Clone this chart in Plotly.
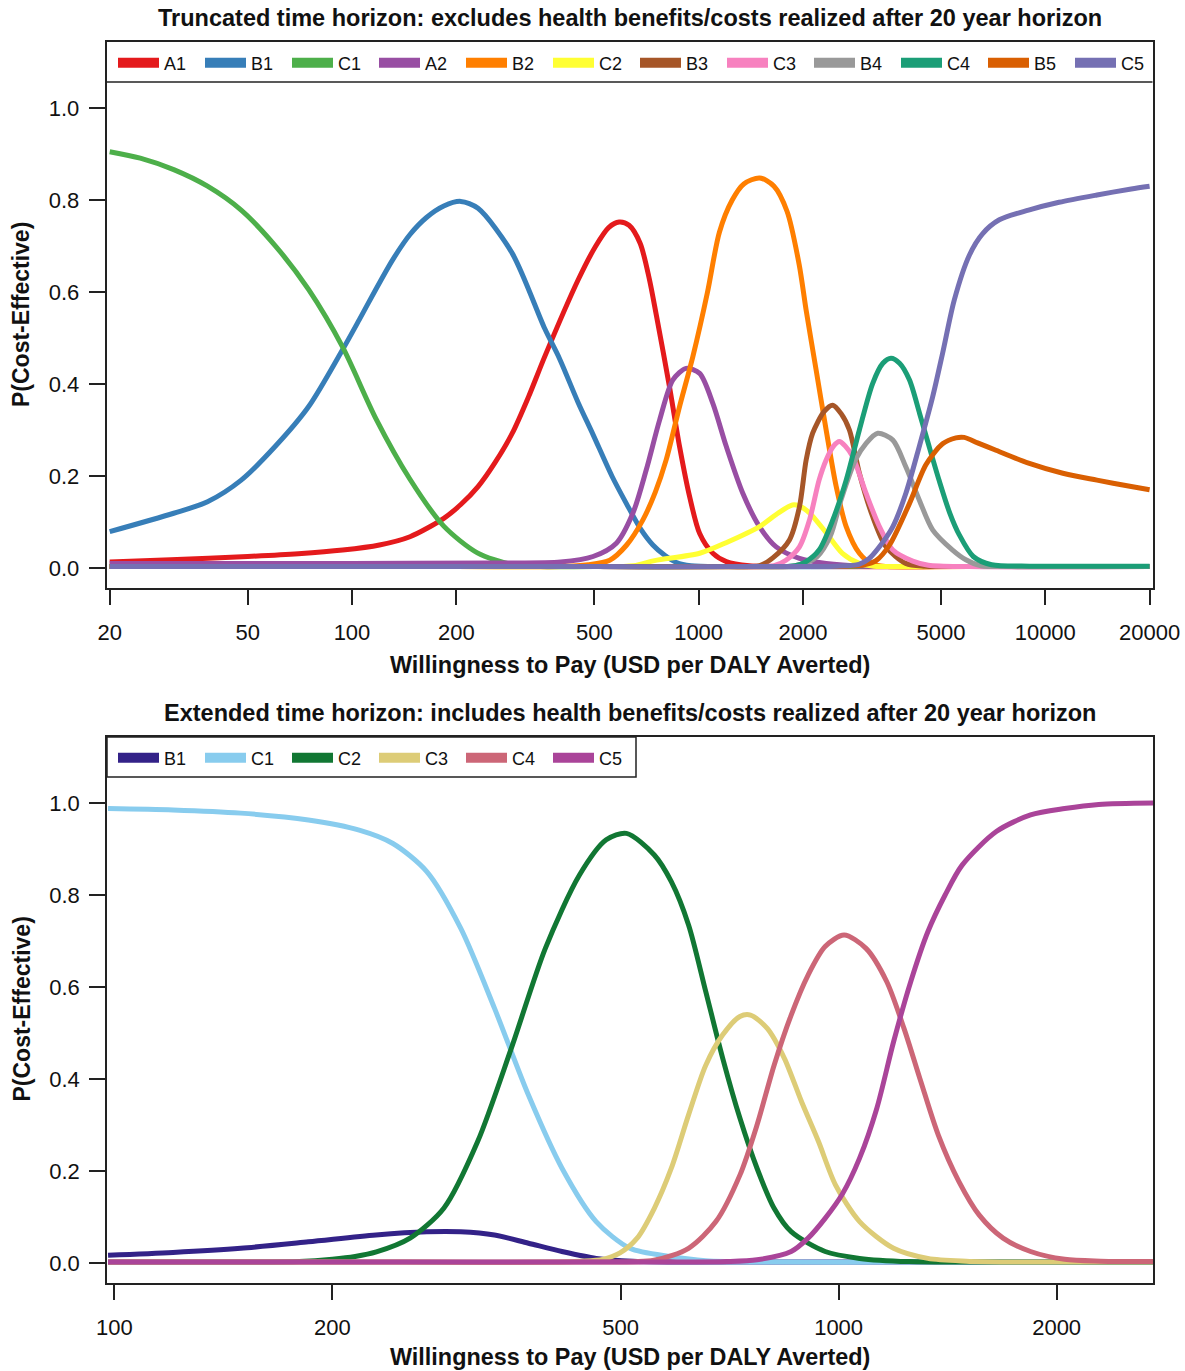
import plotly.graph_objects as go

# ---------------- Top panel data (truncated horizon) ----------------
A1_x = [20, 30, 50, 70, 94, 120, 147, 184, 206, 231, 258, 290, 323, 360, 449, 504, 550, 590, 630, 678, 720, 755, 824, 881, 942, 1007, 1099, 1202, 1400, 2000, 5000, 20000]
A1_y = [0.013, 0.018, 0.025, 0.031, 0.039, 0.05, 0.068, 0.108, 0.138, 0.177, 0.228, 0.293, 0.372, 0.46, 0.626, 0.699, 0.74, 0.752, 0.745, 0.706, 0.63, 0.55, 0.394, 0.264, 0.155, 0.075, 0.032, 0.014, 0.005, 0.003, 0.003, 0.003]

B1_x = [20, 30.6, 38.3, 47.9, 60, 75, 94, 105, 117, 131, 147, 164, 184, 206, 231, 290, 360, 397, 449, 496, 562, 619, 680, 738, 800, 863, 950, 1200, 3000, 20000]
B1_y = [0.079, 0.119, 0.144, 0.191, 0.264, 0.351, 0.475, 0.54, 0.605, 0.67, 0.725, 0.762, 0.787, 0.797, 0.782, 0.684, 0.52, 0.455, 0.36, 0.29, 0.2, 0.14, 0.085, 0.05, 0.027, 0.012, 0.005, 0.003, 0.003, 0.003]

C1_x = [20, 24.5, 30.6, 38.3, 47.9, 60, 75, 94, 117, 147, 184, 230, 288, 350, 500, 2000, 20000]
C1_y = [0.905, 0.891, 0.866, 0.83, 0.778, 0.701, 0.605, 0.48, 0.326, 0.193, 0.091, 0.033, 0.008, 0.003, 0.003, 0.003, 0.003]

A2_x = [20, 100, 250, 400, 496, 579, 646, 706, 772, 843, 921, 1007, 1099, 1202, 1342, 1498, 1674, 1954, 2333, 3000, 5000, 20000]
A2_y = [0.01, 0.01, 0.011, 0.013, 0.025, 0.054, 0.119, 0.213, 0.322, 0.409, 0.434, 0.423, 0.358, 0.264, 0.162, 0.09, 0.046, 0.021, 0.01, 0.004, 0.003, 0.003]

B2_x = [20, 200, 400, 480, 554, 620, 690, 750, 806, 881, 962, 1061, 1148, 1250, 1350, 1500, 1650, 1800, 1950, 2043, 2183, 2333, 2494, 2665, 2909, 3177, 3500, 6000, 20000]
B2_y = [0.003, 0.003, 0.003, 0.007, 0.017, 0.05, 0.104, 0.165, 0.235, 0.351, 0.459, 0.6, 0.73, 0.8, 0.835, 0.848, 0.83, 0.775, 0.66, 0.56, 0.43, 0.3, 0.177, 0.09, 0.032, 0.008, 0.003, 0.003, 0.003]

C2_x = [20, 200, 500, 650, 746, 1007, 1200, 1498, 1700, 1865, 1950, 2088, 2337, 2599, 2909, 3200, 4000, 20000]
C2_y = [0.003, 0.003, 0.003, 0.005, 0.016, 0.032, 0.055, 0.09, 0.12, 0.137, 0.135, 0.12, 0.076, 0.032, 0.01, 0.004, 0.003, 0.003]

B3_x = [20, 500, 1200, 1500, 1637, 1828, 1954, 2043, 2133, 2300, 2437, 2580, 2723, 2909, 3177, 3474, 3960, 4500, 6000, 20000]
B3_y = [0.003, 0.003, 0.003, 0.005, 0.022, 0.061, 0.133, 0.235, 0.293, 0.34, 0.354, 0.335, 0.3, 0.206, 0.112, 0.046, 0.01, 0.004, 0.003, 0.003]

C3_x = [20, 500, 1300, 1650, 1786, 1954, 2088, 2226, 2333, 2450, 2547, 2650, 2783, 3042, 3323, 3634, 4147, 4600, 6000, 20000]
C3_y = [0.003, 0.003, 0.003, 0.005, 0.017, 0.046, 0.104, 0.191, 0.235, 0.265, 0.275, 0.265, 0.242, 0.162, 0.09, 0.039, 0.015, 0.006, 0.003, 0.003]

B4_x = [20, 500, 1500, 1900, 2200, 2400, 2580, 2834, 3042, 3286, 3634, 3960, 4330, 4733, 5404, 5900, 6530, 8000, 20000]
B4_y = [0.003, 0.003, 0.003, 0.005, 0.025, 0.07, 0.15, 0.235, 0.271, 0.293, 0.278, 0.22, 0.148, 0.083, 0.039, 0.018, 0.005, 0.003, 0.003]

C4_x = [20, 500, 1500, 1900, 2043, 2226, 2437, 2665, 2909, 3177, 3400, 3589, 3800, 4056, 4340, 4600, 4943, 5300, 5650, 6200, 7000, 9000, 20000]
C4_y = [0.003, 0.003, 0.003, 0.005, 0.014, 0.039, 0.104, 0.191, 0.3, 0.401, 0.445, 0.456, 0.445, 0.409, 0.336, 0.27, 0.19, 0.12, 0.072, 0.025, 0.007, 0.004, 0.004]

B5_x = [20, 500, 2000, 2700, 3000, 3250, 3554, 4056, 4530, 5057, 5525, 5835, 6380, 7150, 8950, 11240, 14100, 17700, 20000]
B5_y = [0.003, 0.003, 0.003, 0.004, 0.007, 0.016, 0.05, 0.14, 0.225, 0.27, 0.283, 0.284, 0.272, 0.257, 0.228, 0.206, 0.191, 0.177, 0.17]

C5_x = [20, 100, 500, 1500, 2500, 2900, 3100, 3323, 3634, 3960, 4330, 4733, 5057, 5466, 6040, 6600, 7370, 8950, 10960, 14100, 17700, 20000]
C5_y = [0.003, 0.003, 0.003, 0.003, 0.004, 0.008, 0.02, 0.046, 0.09, 0.162, 0.264, 0.372, 0.467, 0.583, 0.68, 0.727, 0.757, 0.778, 0.795, 0.811, 0.824, 0.83]

top_names = ["A1", "B1", "C1", "A2", "B2", "C2", "B3", "C3", "B4", "C4", "B5", "C5"]
top_colors = ["#e41a1c", "#377eb8", "#4daf4a", "#984ea3", "#ff7f00", "#ffff33",
              "#a65628", "#f781bf", "#999999", "#1b9e77", "#d95f02", "#7570b3"]
top_series = [(A1_x, A1_y), (B1_x, B1_y), (C1_x, C1_y), (A2_x, A2_y), (B2_x, B2_y), (C2_x, C2_y),
              (B3_x, B3_y), (C3_x, C3_y), (B4_x, B4_y), (C4_x, C4_y), (B5_x, B5_y), (C5_x, C5_y)]

# ---------------- Bottom panel data (extended horizon) ----------------
eB1_x = [98, 120.5, 149.4, 185.3, 229.7, 270, 300.7, 334.8, 373, 415, 462.6, 520, 700, 2750]
eB1_y = [0.017, 0.023, 0.032, 0.046, 0.061, 0.068, 0.068, 0.061, 0.043, 0.025, 0.01, 0.004, 0.002, 0.002]

eC1_x = [98, 120.5, 149.4, 185.3, 217.8, 242.4, 270, 300.7, 334.8, 373, 415, 462.6, 515, 587, 655, 800, 1200, 2750]
eC1_y = [0.988, 0.985, 0.978, 0.963, 0.941, 0.912, 0.851, 0.728, 0.554, 0.365, 0.206, 0.09, 0.032, 0.014, 0.005, 0.002, 0.002, 0.002]

eC2_x = [98, 150, 180, 200, 215, 230, 256, 285, 317.4, 353.3, 393.6, 438.5, 477.6, 509.4, 556.6, 587.5, 620.6, 655.5, 691.8, 730.6, 771.5, 814.6, 860, 958, 1069, 1250, 1600, 2750]
eC2_y = [0.002, 0.002, 0.003, 0.008, 0.014, 0.024, 0.054, 0.119, 0.264, 0.467, 0.684, 0.843, 0.92, 0.934, 0.887, 0.829, 0.735, 0.59, 0.445, 0.315, 0.206, 0.119, 0.068, 0.025, 0.01, 0.003, 0.002, 0.002]

eC3_x = [98, 250, 400, 440, 472, 499, 527, 556.6, 587.5, 620.6, 655.5, 691.8, 730.6, 755.7, 797, 841.6, 888.6, 938, 990, 1069, 1191, 1328, 1500, 1900, 2750]
eC3_y = [0.002, 0.002, 0.002, 0.004, 0.008, 0.022, 0.054, 0.119, 0.206, 0.322, 0.43, 0.496, 0.536, 0.539, 0.51, 0.445, 0.351, 0.264, 0.17, 0.09, 0.032, 0.01, 0.004, 0.002, 0.002]

eC4_x = [98, 250, 450, 556, 620.6, 677, 730.6, 771.5, 814.6, 860, 907.5, 958, 1017.6, 1091, 1165, 1231, 1299, 1373, 1466, 1564, 1687, 1841, 2052, 2300, 2750]
eC4_y = [0.002, 0.002, 0.002, 0.006, 0.032, 0.09, 0.191, 0.3, 0.43, 0.539, 0.626, 0.688, 0.713, 0.684, 0.612, 0.51, 0.394, 0.278, 0.177, 0.104, 0.054, 0.025, 0.008, 0.004, 0.003]

eC5_x = [98, 200, 400, 600, 700, 771.5, 860, 907.5, 958, 1012, 1069, 1129, 1191, 1258, 1328, 1403, 1481, 1651, 1841, 2052, 2286, 2750]
eC5_y = [0.002, 0.002, 0.002, 0.002, 0.003, 0.007, 0.025, 0.054, 0.097, 0.15, 0.228, 0.336, 0.481, 0.612, 0.72, 0.8, 0.865, 0.938, 0.974, 0.988, 0.997, 1.0]

bot_names = ["B1", "C1", "C2", "C3", "C4", "C5"]
bot_colors = ["#332288", "#88ccee", "#117733", "#ddcc77", "#cc6677", "#aa4499"]
bot_series = [(eB1_x, eB1_y), (eC1_x, eC1_y), (eC2_x, eC2_y), (eC3_x, eC3_y), (eC4_x, eC4_y), (eC5_x, eC5_y)]

# Tick labels
top_ticks = [20, 50, 100, 200, 500, 1000, 2000, 5000, 10000, 20000]
bot_ticks = [100, 200, 500, 1000, 2000]
y_ticks = [0.0, 0.2, 0.4, 0.6, 0.8, 1.0]

titles = ["Truncated time horizon: excludes health benefits/costs realized after 20 year horizon",
          "Extended time horizon: includes health benefits/costs realized after 20 year horizon"]
x_title = "Willingness to Pay (USD per DALY Averted)"
y_title = "P(Cost-Effective)"

W, H = 1185, 1371
FONT = "Liberation Sans, Arial, sans-serif"


def px_x(p):
    return p / W


def px_y(p):
    return (H - p) / H


fig = go.Figure()

panels = [(top_names, top_colors, top_series, "x", "y", "legend"),
          (bot_names, bot_colors, bot_series, "x2", "y2", "legend2")]
for names, colors, series, xa, ya, lg in panels:
    for name, col, (xs, ys) in zip(names, colors, series):
        fig.add_trace(go.Scatter(x=xs, y=ys, mode="lines", name=name, legendgroup=lg + name,
                                 showlegend=False,
                                 line=dict(color=col, width=5, shape="spline", smoothing=0.8),
                                 xaxis=xa, yaxis=ya))
    # legend keys (thick strokes like the original legend)
    for name, col in zip(names, colors):
        fig.add_trace(go.Scatter(x=[None], y=[None], mode="lines", name=name, legendgroup=lg + name,
                                 showlegend=True, line=dict(color=col, width=10),
                                 xaxis=xa, yaxis=ya, legend=lg))

axis_common = dict(showline=True, mirror=True, linecolor="#222", linewidth=1.5,
                   ticks="outside", ticklen=16, tickwidth=1.5, tickcolor="#222",
                   showgrid=False, zeroline=False,
                   tickfont=dict(family=FONT, size=22, color="#111"))

legend_common = dict(orientation="h", xanchor="left", yanchor="middle",
                     bgcolor="rgba(0,0,0,0)", borderwidth=0,
                     font=dict(family=FONT, size=18, color="#111"),
                     itemwidth=41, entrywidth=31, entrywidthmode="pixels", tracegroupgap=0)

fig.update_layout(
    width=W, height=H,
    margin=dict(l=0, r=0, t=0, b=0, autoexpand=False),
    paper_bgcolor="white", plot_bgcolor="white",
    font=dict(family=FONT, color="#111"),
    xaxis=dict(type="log", domain=[px_x(106.5), px_x(1152.5)], anchor="y",
               range=[1.2918, 4.3094], tickvals=top_ticks, ticktext=[str(t) for t in top_ticks],
               ticklabelstandoff=8, **axis_common),
    yaxis=dict(domain=[px_y(587.5), px_y(41.5)], anchor="x",
               range=[-0.0424, 1.1446], tickvals=y_ticks, ticktext=["%.1f" % v for v in y_ticks],
               ticklabelstandoff=5, **axis_common),
    xaxis2=dict(type="log", domain=[px_x(107), px_x(1153)], anchor="y2",
                range=[1.9898, 3.4341], tickvals=bot_ticks, ticktext=[str(t) for t in bot_ticks],
                ticklabelstandoff=8, **axis_common),
    yaxis2=dict(domain=[px_y(1282.5), px_y(737)], anchor="x2",
                range=[-0.0424, 1.1435], tickvals=y_ticks, ticktext=["%.1f" % v for v in y_ticks],
                ticklabelstandoff=5, **axis_common),
    legend=dict(x=px_x(113), y=px_y(63), **legend_common),
    legend2=dict(x=px_x(113), y=px_y(758), **legend_common),
    showlegend=True,
)

# legend frames (top: separator under legend row; bottom: framed box)
fig.add_shape(type="line", xref="paper", yref="paper",
              x0=px_x(106.5), x1=px_x(1152.5), y0=px_y(82), y1=px_y(82),
              line=dict(color="#222", width=1.5))
fig.add_shape(type="rect", xref="paper", yref="paper",
              x0=px_x(107), x1=px_x(636), y0=px_y(777), y1=px_y(737),
              line=dict(color="#222", width=1.5))

annots = [
    dict(text="<b>%s</b>" % titles[0], x=px_x(629.5), y=px_y(18), size=23.5),
    dict(text="<b>%s</b>" % titles[1], x=px_x(629.5), y=px_y(713), size=23.5),
    dict(text="<b>%s</b>" % x_title, x=px_x(629.5), y=px_y(665), size=23.4),
    dict(text="<b>%s</b>" % x_title, x=px_x(629.5), y=px_y(1357), size=23.4),
]
for a in annots:
    size = a.pop("size")
    fig.add_annotation(xref="paper", yref="paper", xanchor="center", yanchor="middle",
                       showarrow=False, font=dict(family=FONT, size=size, color="#111"), **a)
for yc in (315, 1009.5):
    fig.add_annotation(xref="paper", yref="paper", x=px_x(21), y=px_y(yc),
                       xanchor="center", yanchor="middle", textangle=-90, showarrow=False,
                       text="<b>%s</b>" % y_title, font=dict(family=FONT, size=23, color="#111"))

fig.write_html("out.html")
